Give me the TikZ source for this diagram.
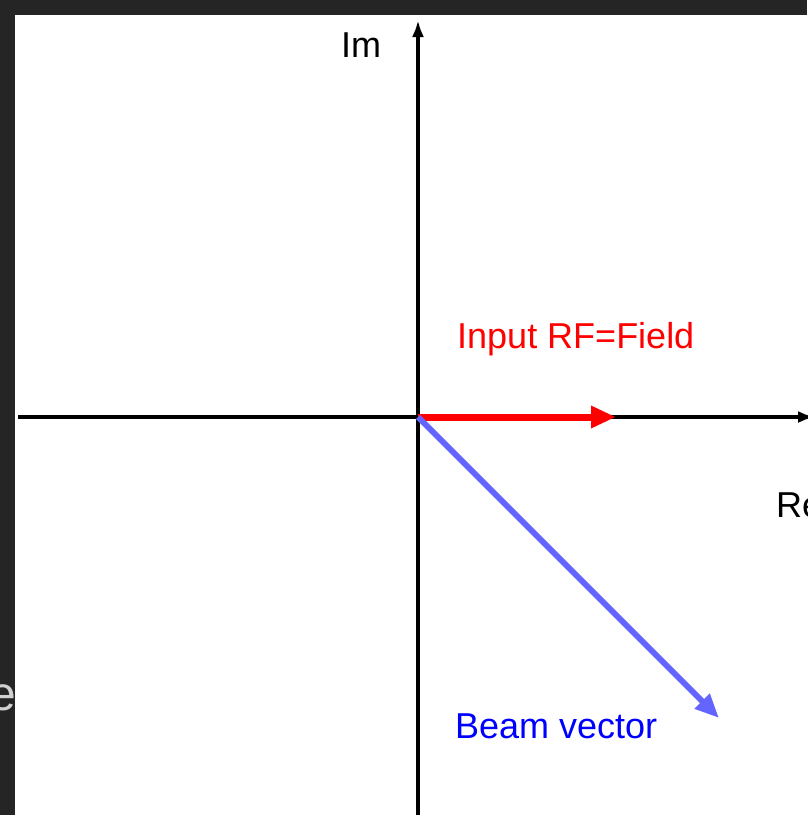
\documentclass[tikz,border=0pt]{standalone}
\usepackage{fontspec}
\setmainfont{Liberation Sans}
\usetikzlibrary{arrows.meta}
\definecolor{frame}{HTML}{252525}
\definecolor{ghost}{HTML}{D0D0D0}
\definecolor{beam}{HTML}{6464FF}
\begin{document}
\begin{tikzpicture}[x=1pt, y=-1pt,
    lbl/.style={font=\fontsize{36}{40}\selectfont, inner sep=0pt},
    axis/.style={line width=3.5pt, -{Latex[length=17pt, width=12pt]}},
    vec/.style={line width=7pt, -{Triangle[length=25pt, width=21pt]}}]
        \useasboundingbox (0, 0) rectangle (807, 815);
        \fill[frame] (0, 0) rectangle (807, 815);
        \node[lbl, ghost, anchor=base east, font=\fontsize{48}{52}\selectfont] (ghost) at (16, 710) {e};
        \fill[white] (15, 15) rectangle (807, 815);

        % axes
        \coordinate (O) at (418, 417);
        \coordinate (imtop) at (418, 20);
        \coordinate (imbot) at (418, 815);
        \coordinate (releft) at (18, 417);
        \coordinate (reright) at (815, 417);
        \draw[axis] (imbot) -- (imtop);
        \draw[axis] (releft) -- (reright);
        \node[lbl, anchor=base west] (im) at (341, 57) {Im};
        \node[lbl, anchor=base west] (re) at (776, 517) {Re};

        % field and beam
        \coordinate (rf) at (616, 417);
        \coordinate (bv) at (719, 718);
        \draw[vec, red] (O) -- (rf);
        \draw[vec, beam, line width=6pt, -{Triangle[length=24pt, width=20pt]}] (O) -- (bv);
        \node[lbl, red, anchor=base west] (rflbl) at (457, 348) {Input RF=Field};
        \node[lbl, blue, anchor=base west] (bvlbl) at (455, 738) {Beam vector};
\end{tikzpicture}
\end{document}
